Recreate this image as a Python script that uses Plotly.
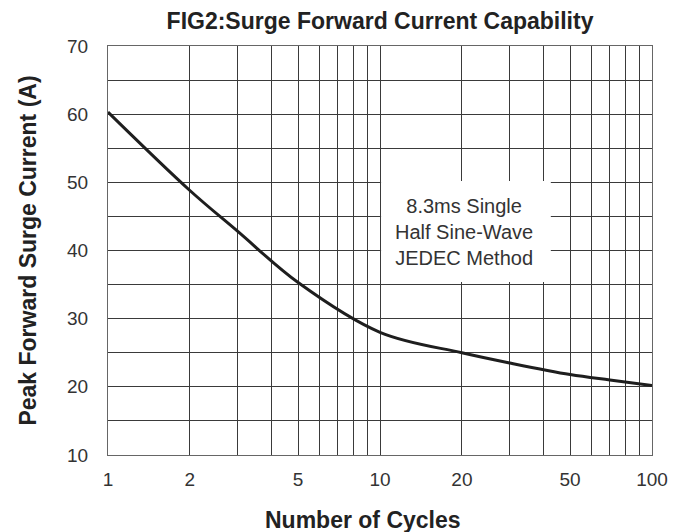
import plotly.graph_objects as go

# Data (curve read at its grid lines)
cycles = [1, 2, 3, 5, 10, 20, 30, 50, 70, 100]
current = [60.3, 48.8, 42.8, 35.3, 28.0, 25.0, 23.5, 21.8, 21.0, 20.2]

x_grid_vals = [1, 2, 3, 4, 5, 6, 7, 8, 9, 10, 20, 30, 40, 50, 60, 70, 80, 90, 100]
x_tick_labels = ["1", "2", "", "", "5", "", "", "", "", "10", "20", "", "", "50",
                 "", "", "", "", "100"]
y_grid_vals = [10, 15, 20, 25, 30, 35, 40, 45, 50, 55, 60, 65, 70]
y_tick_labels = ["10", "", "20", "", "30", "", "40", "", "50", "", "60", "", "70"]

title_text = "FIG2:Surge Forward Current Capability"
x_title = "Number of Cycles"
y_title = "Peak Forward Surge Current (A)"
note_text = "8.3ms Single<br>Half Sine-Wave<br>JEDEC Method"

FONT = "Liberation Sans, Arial, sans-serif"
GRID = "#3a3a3a"

fig = go.Figure()
fig.add_trace(go.Scatter(
    x=cycles, y=current, mode="lines",
    line=dict(color="#1e1e1e", width=3, shape="spline", smoothing=1.0),
    showlegend=False, hoverinfo="skip",
))

fig.update_layout(
    width=682, height=524,
    template="none",
    paper_bgcolor="white", plot_bgcolor="white",
    margin=dict(l=100, r=38, t=38, b=77),
    font=dict(family=FONT, color="#333333", size=19),
    title=dict(text=title_text, x=0.5455, xanchor="center", y=0.976, yanchor="middle",
               font=dict(family=FONT, size=23, color="#222222", weight="bold")),
    shapes=[dict(type="rect", xref="paper", yref="paper",
                 x0=0.502, x1=0.814, y0=0.423, y1=0.67,
                 fillcolor="white", line=dict(width=0), layer="above")],
    annotations=[
        dict(text=note_text, xref="paper", yref="paper",
             x=0.654, y=0.545, xanchor="center", yanchor="middle",
             showarrow=False, align="center",
             font=dict(family=FONT, size=20, color="#333333")),
        dict(text=x_title, xref="paper", yref="paper",
             x=0.469, y=-0.159, xanchor="center", yanchor="middle",
             showarrow=False,
             font=dict(family=FONT, size=23, color="#222222", weight="bold")),
    ],
)

fig.update_xaxes(
    type="log", range=[0, 2],
    tickmode="array", tickvals=x_grid_vals, ticktext=x_tick_labels,
    showgrid=True, gridcolor=GRID, gridwidth=1,
    showline=True, linecolor="#666666", linewidth=1, mirror=True,
    ticks="", ticklabelstandoff=7, zeroline=False, automargin=False,
)
fig.update_yaxes(
    range=[10, 70],
    tickmode="array", tickvals=y_grid_vals, ticktext=y_tick_labels,
    showgrid=True, gridcolor=GRID, gridwidth=1,
    showline=True, linecolor="#666666", linewidth=1, mirror=True,
    ticks="", ticklabelstandoff=15, zeroline=False, automargin=False,
    title=dict(text=y_title, standoff=24,
               font=dict(family=FONT, size=23, color="#222222", weight="bold")),
)

fig.write_html("out.html")
